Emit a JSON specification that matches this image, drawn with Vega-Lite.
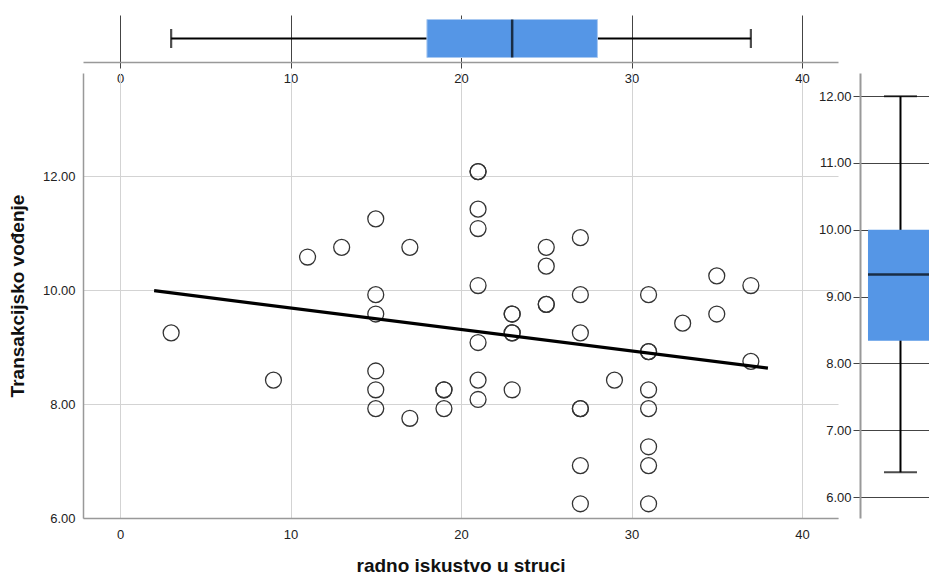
{
  "$schema": "https://vega.github.io/schema/vega-lite/v6.json",
  "padding": {"left": 8, "top": 15, "right": 0, "bottom": 0},
  "bounds": "flush",
  "spacing": 11,
  "config": {
    "view": {"stroke": null},
    "font": "Liberation Sans",
    "axis": {
      "labelFont": "Liberation Sans",
      "labelFontSize": 13,
      "labelColor": "#222",
      "titleFont": "Liberation Sans",
      "titleFontSize": 19,
      "titleFontWeight": "bold",
      "titleColor": "#111",
      "domainColor": "#999",
      "gridColor": "#d3d3d3"
    }
  },
  "datasets": {
    "points": [
      {"experience": 3, "leadership": 9.25},
      {"experience": 9, "leadership": 8.42},
      {"experience": 11, "leadership": 10.58},
      {"experience": 13, "leadership": 10.75},
      {"experience": 15, "leadership": 11.25},
      {"experience": 15, "leadership": 9.92},
      {"experience": 15, "leadership": 9.58},
      {"experience": 15, "leadership": 8.58},
      {"experience": 15, "leadership": 8.25},
      {"experience": 15, "leadership": 7.92},
      {"experience": 17, "leadership": 10.75},
      {"experience": 17, "leadership": 7.75},
      {"experience": 19, "leadership": 8.25},
      {"experience": 19, "leadership": 8.25},
      {"experience": 19, "leadership": 7.92},
      {"experience": 21, "leadership": 12.08},
      {"experience": 21, "leadership": 12.08},
      {"experience": 21, "leadership": 11.42},
      {"experience": 21, "leadership": 11.08},
      {"experience": 21, "leadership": 10.08},
      {"experience": 21, "leadership": 9.08},
      {"experience": 21, "leadership": 8.42},
      {"experience": 21, "leadership": 8.08},
      {"experience": 23, "leadership": 9.58},
      {"experience": 23, "leadership": 9.58},
      {"experience": 23, "leadership": 9.25},
      {"experience": 23, "leadership": 9.25},
      {"experience": 23, "leadership": 8.25},
      {"experience": 25, "leadership": 10.75},
      {"experience": 25, "leadership": 10.42},
      {"experience": 25, "leadership": 9.75},
      {"experience": 25, "leadership": 9.75},
      {"experience": 27, "leadership": 10.92},
      {"experience": 27, "leadership": 9.92},
      {"experience": 27, "leadership": 9.25},
      {"experience": 27, "leadership": 7.92},
      {"experience": 27, "leadership": 7.92},
      {"experience": 27, "leadership": 6.92},
      {"experience": 27, "leadership": 6.25},
      {"experience": 29, "leadership": 8.42},
      {"experience": 31, "leadership": 9.92},
      {"experience": 31, "leadership": 8.92},
      {"experience": 31, "leadership": 8.92},
      {"experience": 31, "leadership": 8.25},
      {"experience": 31, "leadership": 7.92},
      {"experience": 31, "leadership": 7.25},
      {"experience": 31, "leadership": 6.92},
      {"experience": 31, "leadership": 6.25},
      {"experience": 33, "leadership": 9.42},
      {"experience": 35, "leadership": 10.25},
      {"experience": 35, "leadership": 9.58},
      {"experience": 37, "leadership": 10.08},
      {"experience": 37, "leadership": 8.75}
    ],
    "fit": [
      {"experience": 2, "leadership": 9.99},
      {"experience": 38, "leadership": 8.63}
    ],
    "xbox": [
      {"var": "radno iskustvo u struci", "min": 3, "q1": 18, "median": 23, "q3": 28, "max": 37}
    ],
    "ybox": [
      {"var": "Transakcijsko vođenje", "min": 6.37, "q1": 8.34, "median": 9.33, "q3": 10.0, "max": 12.0}
    ]
  },
  "vconcat": [
    {
      "width": 755,
      "height": 47,
      "data": {"name": "xbox"},
      "encoding": {
        "y": {"field": "var", "type": "nominal", "axis": null, "scale": {"paddingInner": 0, "paddingOuter": 0}}
      },
      "layer": [
        {
          "mark": {"type": "rule", "color": "#000", "strokeWidth": 2.2},
          "encoding": {
            "x": {
              "field": "min", "type": "quantitative",
              "scale": {"domain": [-2.17, 42.11], "nice": false, "zero": false},
              "axis": {"values": [0, 10, 20, 30, 40], "grid": true, "gridColor": "#444", "tickColor": "#444", "tickSize": 6, "labelPadding": 4, "domainColor": "#999", "domainWidth": 1.5, "title": null}
            },
            "x2": {"field": "max"}
          }
        },
        {
          "mark": {"type": "bar", "color": "#5596e6", "size": 38, "stroke": "#a9c9f1", "strokeWidth": 1},
          "encoding": {"x": {"field": "q1", "type": "quantitative"}, "x2": {"field": "q3"}}
        },
        {
          "mark": {"type": "tick", "color": "#000", "thickness": 2.5, "size": 38},
          "encoding": {"x": {"field": "median", "type": "quantitative"}}
        },
        {
          "mark": {"type": "tick", "color": "#000", "thickness": 2.2, "size": 19},
          "encoding": {"x": {"field": "min", "type": "quantitative"}}
        },
        {
          "mark": {"type": "tick", "color": "#000", "thickness": 2.2, "size": 19},
          "encoding": {"x": {"field": "max", "type": "quantitative"}}
        }
      ]
    },
    {
      "bounds": "flush",
      "spacing": 22,
      "hconcat": [
        {
          "width": 755,
          "height": 445,
          "layer": [
            {
              "data": {"name": "points"},
              "mark": {"type": "point", "shape": "circle", "filled": false, "size": 254, "stroke": "#333", "strokeWidth": 1.3, "opacity": 1},
              "encoding": {
                "x": {
                  "field": "experience", "type": "quantitative", "title": "radno iskustvo u struci",
                  "scale": {"domain": [-2.17, 42.11], "nice": false, "zero": false},
                  "axis": {"values": [0, 10, 20, 30, 40], "grid": true, "ticks": false, "labelPadding": 10, "titlePadding": 15, "domainWidth": 1.5}
                },
                "y": {
                  "field": "leadership", "type": "quantitative", "title": "Transakcijsko vođenje",
                  "scale": {"domain": [6, 13.81], "nice": false, "zero": false},
                  "axis": {"values": [6, 8, 10, 12], "format": ".2f", "grid": true, "ticks": false, "labelPadding": 8, "titlePadding": 15, "domainWidth": 1.5}
                }
              }
            },
            {
              "data": {"name": "fit"},
              "mark": {"type": "line", "color": "#000", "strokeWidth": 3.2},
              "encoding": {
                "x": {"field": "experience", "type": "quantitative"},
                "y": {"field": "leadership", "type": "quantitative"}
              }
            }
          ]
        },
        {
          "width": 69,
          "height": 445,
          "data": {"name": "ybox"},
          "encoding": {
            "x": {"field": "var", "type": "nominal", "axis": null, "scale": {"paddingInner": 0, "paddingOuter": 0.105, "align": 1}}
          },
          "layer": [
            {
              "mark": {"type": "rule", "color": "#000", "strokeWidth": 2},
              "encoding": {
                "y": {
                  "field": "min", "type": "quantitative",
                  "scale": {"domain": [5.686, 12.347], "nice": false, "zero": false},
                  "axis": {"values": [6, 7, 8, 9, 10, 11, 12], "format": ".2f", "grid": true, "gridColor": "#444", "tickColor": "#444", "tickSize": 7, "labelPadding": 2, "domainColor": "#999", "domainWidth": 2, "title": null}
                },
                "y2": {"field": "max"}
              }
            },
            {
              "mark": {"type": "bar", "color": "#5596e6", "size": 65, "clip": true},
              "encoding": {"y": {"field": "q1", "type": "quantitative"}, "y2": {"field": "q3"}}
            },
            {
              "mark": {"type": "tick", "color": "#000", "thickness": 2.5, "size": 65, "clip": true},
              "encoding": {"y": {"field": "median", "type": "quantitative"}}
            },
            {
              "mark": {"type": "tick", "color": "#000", "thickness": 2, "size": 33},
              "encoding": {"y": {"field": "min", "type": "quantitative"}}
            },
            {
              "mark": {"type": "tick", "color": "#000", "thickness": 2, "size": 33},
              "encoding": {"y": {"field": "max", "type": "quantitative"}}
            }
          ]
        }
      ]
    }
  ]
}
